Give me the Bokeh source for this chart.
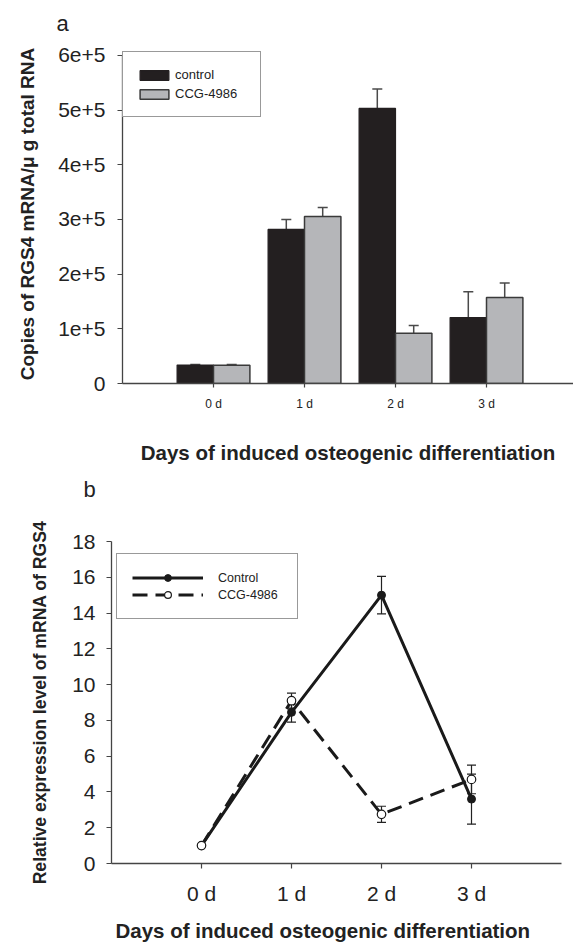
from bokeh.plotting import figure
from bokeh.models import FixedTicker, Range1d, Legend, Title
from bokeh.embed import file_html
from bokeh.resources import INLINE

# ---------------- data ----------------
days = ["0 d", "1 d", "2 d", "3 d"]
day_pos = [1, 2, 3, 4]

control_copies = [33700, 281700, 503000, 120700]
control_copies_err = [1000, 18300, 35500, 47000]
ccg_copies = [33500, 305500, 92000, 157300]
ccg_copies_err = [1200, 16500, 14000, 26300]

copies_ticks = [0, 100000, 200000, 300000, 400000, 500000, 600000]
copies_tick_labels = ["0", "1e+5", "2e+5", "3e+5", "4e+5", "5e+5", "6e+5"]

rel_control = [1.0, 8.45, 15.0, 3.6]
rel_control_err = [0.0, 0.55, 1.05, 1.4]
rel_ccg = [1.0, 9.1, 2.75, 4.7]
rel_ccg_err = [0.0, 0.42, 0.45, 0.8]

rel_ticks = [0, 2, 4, 6, 8, 10, 12, 14, 16, 18]

x_title = "Days of induced osteogenic differentiation"

FONT = "Liberation Sans"
AXIS_COL = "#444444"
TEXT_COL = "#222222"


def style_axes(p):
    for ax in (p.xaxis, p.yaxis):
        ax.axis_line_color = AXIS_COL
        ax.axis_line_width = 1.3
        ax.major_tick_line_color = AXIS_COL
        ax.major_tick_line_width = 1.2
        ax.major_tick_in = 0
        ax.minor_tick_line_color = None
        ax.major_label_text_font = FONT
        ax.major_label_text_color = TEXT_COL
        ax.axis_label_text_font = FONT
        ax.axis_label_text_font_style = "bold"
        ax.axis_label_text_color = TEXT_COL


# ---------------- panel a ----------------
xa_end = 451 / 91.0
pa = figure(width=573, height=513, output_backend="svg", toolbar_location=None,
            x_range=Range1d(0, xa_end), y_range=Range1d(0, 620000),
            min_border_left=122, min_border_right=0, min_border_top=44, min_border_bottom=130)
pa.outline_line_color = None
pa.xgrid.visible = False
pa.ygrid.visible = False

bw = 0.4
cx = [d - bw / 2 for d in day_pos]
gx = [d + bw / 2 for d in day_pos]

cap = 0.055
for xs, ys, es in ((cx, control_copies, control_copies_err), (gx, ccg_copies, ccg_copies_err)):
    tops = [y + e for y, e in zip(ys, es)]
    pa.segment(x0=xs, y0=ys, x1=xs, y1=tops, line_color="#4a4a4a", line_width=1.5)
    pa.segment(x0=[x - cap for x in xs], y0=tops, x1=[x + cap for x in xs], y1=tops,
               line_color="#4a4a4a", line_width=1.5)

rc = pa.vbar(x=cx, top=control_copies, width=bw, bottom=0,
             fill_color="#231f20", line_color="#231f20", line_width=1.2)
rg = pa.vbar(x=gx, top=ccg_copies, width=bw, bottom=0,
             fill_color="#b5b6b9", line_color="#3a3a3a", line_width=1.5)

leg_a = Legend(items=[("control", [rc]), ("CCG-4986", [rg])],
               location=(0, 266), margin=0, padding=13, spacing=0,
               glyph_width=36, glyph_height=12, label_height=19, label_width=72,
               label_standoff=3, label_text_font=FONT, label_text_font_size="13px",
               label_text_color=TEXT_COL, border_line_color="#333333", border_line_width=1,
               background_fill_color="white", background_fill_alpha=1)
pa.add_layout(leg_a, "center")

style_axes(pa)
pa.yaxis.ticker = FixedTicker(ticks=copies_ticks)
pa.yaxis.major_label_overrides = {t: l for t, l in zip(copies_ticks, copies_tick_labels)}
pa.yaxis.bounds = (0, 600000)
pa.xaxis.ticker = FixedTicker(ticks=day_pos)
pa.xaxis.major_label_overrides = {p: d for p, d in zip(day_pos, days)}
pa.yaxis.major_tick_out = 5
pa.yaxis.major_label_standoff = 12
pa.yaxis.major_label_text_font_size = "21px"
pa.xaxis.major_tick_out = 4
pa.xaxis.major_label_standoff = 9
pa.xaxis.major_label_text_font_size = "12px"
pa.yaxis.axis_label = "Copies of RGS4 mRNA/\u03bc g total RNA"
pa.yaxis.axis_label_standoff = 17
pa.yaxis.axis_label_text_font_size = "19px"
pa.xaxis.axis_label = x_title
pa.xaxis.axis_label_standoff = 27
pa.xaxis.axis_label_text_font_size = "20.5px"

pa.add_layout(Title(text="a", align="left", offset=-66, standoff=17,
                    text_font=FONT, text_font_size="22px", text_font_style="normal",
                    text_color=TEXT_COL), "above")
pa.add_layout(Title(text="b", align="left", offset=-39, standoff=17,
                    text_font=FONT, text_font_size="22px", text_font_style="normal",
                    text_color=TEXT_COL), "below")

# ---------------- panel b ----------------
pb = figure(width=573, height=437, output_backend="svg", toolbar_location=None,
            x_range=Range1d(0, 5), y_range=Range1d(0, 18),
            min_border_left=111, min_border_right=12, min_border_top=28, min_border_bottom=86)
pb.outline_line_color = None
pb.xgrid.visible = False
pb.ygrid.visible = False

ecap = 0.05
for ys, es in ((rel_control, rel_control_err), (rel_ccg, rel_ccg_err)):
    lo = [y - e for y, e in zip(ys, es)]
    hi = [y + e for y, e in zip(ys, es)]
    pb.segment(x0=day_pos, y0=lo, x1=day_pos, y1=hi, line_color="#222222", line_width=1.2)
    for v in (lo, hi):
        pb.segment(x0=[x - ecap for x in day_pos], y0=v, x1=[x + ecap for x in day_pos], y1=v,
                   line_color="#222222", line_width=1.2)

lc = pb.line(day_pos, rel_control, line_color="#1a1a1a", line_width=3)
lg = pb.line(day_pos, rel_ccg, line_color="#1a1a1a", line_width=3, line_dash="15 8")
mc = pb.scatter(day_pos, rel_control, size=8, marker="circle",
                fill_color="#1a1a1a", line_color="#1a1a1a")
mg = pb.scatter(day_pos, rel_ccg, size=8.5, marker="circle",
                fill_color="white", line_color="#1a1a1a", line_width=1.2)

leg_b = Legend(items=[("Control", [lc, mc]), ("CCG-4986", [lg, mg])],
               location=(5, 244), margin=0, padding=15, spacing=0,
               glyph_width=71, glyph_height=17, label_height=17, label_width=64,
               label_standoff=15, label_text_font=FONT, label_text_font_size="12.5px",
               label_text_color=TEXT_COL, border_line_color="#333333", border_line_width=1,
               background_fill_color="white", background_fill_alpha=1)
pb.add_layout(leg_b, "center")

style_axes(pb)
pb.yaxis.ticker = FixedTicker(ticks=rel_ticks)
pb.xaxis.ticker = FixedTicker(ticks=day_pos)
pb.xaxis.major_label_overrides = {p: d for p, d in zip(day_pos, days)}
for ax in (pb.xaxis, pb.yaxis):
    ax.major_tick_out = 5
    ax.major_label_text_font_size = "21px"
pb.yaxis.major_label_standoff = 11
pb.xaxis.major_label_standoff = 13
pb.yaxis.axis_label = "Relative expression level of mRNA of RGS4"
pb.yaxis.axis_label_standoff = 19
pb.yaxis.axis_label_text_font_size = "17.6px"

pb.add_layout(Title(text=x_title, align="left", offset=4, standoff=18,
                    text_font=FONT, text_font_size="20.5px", text_font_style="bold",
                    text_color=TEXT_COL), "below")

open("out.html", "w").write(file_html([pa, pb], INLINE))
